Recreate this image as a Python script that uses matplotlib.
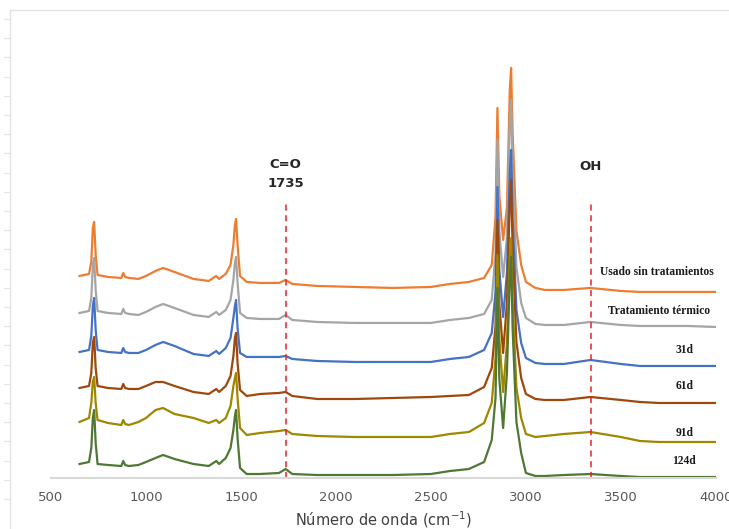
import matplotlib.pyplot as plt
from matplotlib.lines import Line2D

# numero de onda (cm-1), malla comun para todos los espectros
wn = [650, 700, 712, 720, 727, 735, 745, 800, 870, 880, 890, 910, 960, 1000,
      1050, 1090, 1150, 1250, 1330, 1370, 1385, 1420, 1445, 1460, 1468, 1474,
      1482, 1495, 1530, 1600, 1700, 1735, 1770, 1900, 2100, 2300, 2500, 2600,
      2700, 2780, 2820, 2840, 2850, 2860, 2880, 2900, 2915, 2922, 2930, 2950,
      2975, 3000, 3050, 3100, 3200, 3340, 3500, 3600, 3700, 3850, 4000]

# absorbancia (u.a., espectros ya desplazados)
usado = [202, 204, 216, 250, 256, 223, 203, 201, 200, 205, 201, 200, 199, 202,
         207, 210, 206, 199, 197, 202, 199, 204, 213, 233, 253, 259,
         233, 202, 196, 195, 195, 198, 194, 192, 191, 190, 191, 194,
         196, 200, 213, 261, 370, 282, 238, 270, 388, 410, 345, 247,
         213, 196, 190, 188, 188, 190, 187, 186, 186, 186, 186]
termico = [165, 167, 180, 212, 220, 188, 167, 165, 164, 169, 165, 164, 163, 166,
           171, 174, 170, 163, 161, 166, 163, 168, 178, 198, 215, 221,
           195, 165, 160, 159, 159, 163, 158, 156, 155, 155, 155, 158,
           160, 164, 178, 225, 338, 247, 201, 240, 355, 378, 308, 211,
           175, 160, 154, 153, 153, 156, 153, 152, 152, 152, 151]
d31 = [126, 128, 142, 172, 180, 148, 128, 126, 125, 130, 126, 125, 125, 128,
       133, 136, 132, 124, 122, 127, 124, 130, 140, 160, 172, 178,
       150, 125, 121, 121, 121, 122, 119, 117, 116, 116, 116, 119,
       121, 128, 145, 186, 291, 208, 161, 205, 305, 328, 260, 168,
       135, 120, 115, 114, 114, 118, 114, 112, 112, 112, 112]
d61 = [90, 92, 105, 135, 141, 110, 92, 90, 89, 94, 90, 89, 89, 92,
       96, 96, 92, 86, 84, 89, 86, 92, 102, 122, 140, 145,
       115, 88, 82, 84, 85, 86, 82, 79, 79, 80, 81, 82,
       83, 91, 110, 152, 258, 174, 125, 175, 275, 298, 229, 136,
       100, 84, 79, 78, 78, 81, 78, 76, 75, 75, 75]
d91 = [56, 60, 75, 96, 101, 75, 58, 55, 53, 58, 54, 53, 56, 60,
       68, 70, 64, 60, 55, 58, 55, 60, 72, 92, 100, 105,
       80, 50, 43, 45, 47, 48, 44, 42, 41, 41, 41, 44,
       46, 55, 75, 120, 223, 139, 86, 135, 222, 240, 177, 90,
       60, 44, 41, 42, 44, 46, 41, 37, 36, 36, 36]
d124 = [14, 16, 30, 60, 68, 35, 14, 13, 12, 17, 13, 12, 13, 16,
        20, 23, 19, 14, 12, 17, 14, 20, 30, 48, 62, 68,
        40, 10, 4, 4, 5, 9, 4, 3, 3, 3, 4, 7,
        9, 16, 38, 80, 190, 99, 50, 105, 200, 221, 149, 56,
        25, 5, 2, 2, 3, 4, 2, 1, 1, 1, 1]

series = [usado, termico, d31, d61, d91, d124]
nombres = ["Usado sin tratamientos", "Tratamiento térmico", "31d", "61d", "91d", "124d"]
colores = ["#ED7D31", "#A5A5A5", "#4472C4", "#9E480E", "#A08700", "#4E7833"]
# posicion de las etiquetas (x, y) en coordenadas de datos
etiq_x = [3990, 3968, 3884, 3884, 3884, 3895]
etiq_y = [206, 167, 128, 92, 45, 17]

fig = plt.figure(figsize=(7.29, 5.29), dpi=100)
ax = fig.add_axes([0.070, 0.0964, 0.912, 0.866])

for y, c in zip(series, colores):
    ax.plot(wn, y, color=c, lw=1.6, solid_joinstyle="round")

for n, x, y in zip(nombres, etiq_x, etiq_y):
    ax.text(x, y, n, ha="right", va="center", fontsize=8.3, fontweight="bold",
            family="Liberation Serif", color="#1a1a1a")

# bandas marcadas
ax.vlines([1735, 3340], 0, 278, colors="#E8222B", linestyles=(0, (4, 3)), lw=1.1)
ax.text(1735, 313, "C=O", ha="center", va="center", fontsize=9.5, fontweight="bold", color="#262626")
ax.text(1735, 294, "1735", ha="center", va="center", fontsize=9.5, fontweight="bold", color="#262626")
ax.text(3340, 311, "OH", ha="center", va="center", fontsize=9.5, fontweight="bold", color="#262626")

ax.set_xlim(500, 4000)
ax.set_ylim(0, 458)
ax.set_xticks(range(500, 4001, 500))
ax.set_yticks([])
ax.tick_params(axis="x", length=0, pad=9, labelsize=9.5, labelcolor="#595959")
for s in ["left", "top", "right"]:
    ax.spines[s].set_visible(False)
ax.spines["bottom"].set_color("#d9d9d9")
ax.spines["bottom"].set_linewidth(1.5)
ax.set_xlabel("Número de onda (cm$^{-1}$)", fontsize=10.5, color="#404040", labelpad=4)

# marco del grafico
fig.add_artist(Line2D([10 / 729, 10 / 729], [0, 1 - 10 / 529], color="#e3e3e3", lw=1))
fig.add_artist(Line2D([10 / 729, 1], [1 - 10 / 529, 1 - 10 / 529], color="#e3e3e3", lw=1))
for k in range(26):
    yy = 1 - (19 + 19.2 * k) / 529
    fig.add_artist(Line2D([4 / 729, 10 / 729], [yy, yy], color="#e6e6e6", lw=0.8))

fig.savefig("out.png", dpi=100)
